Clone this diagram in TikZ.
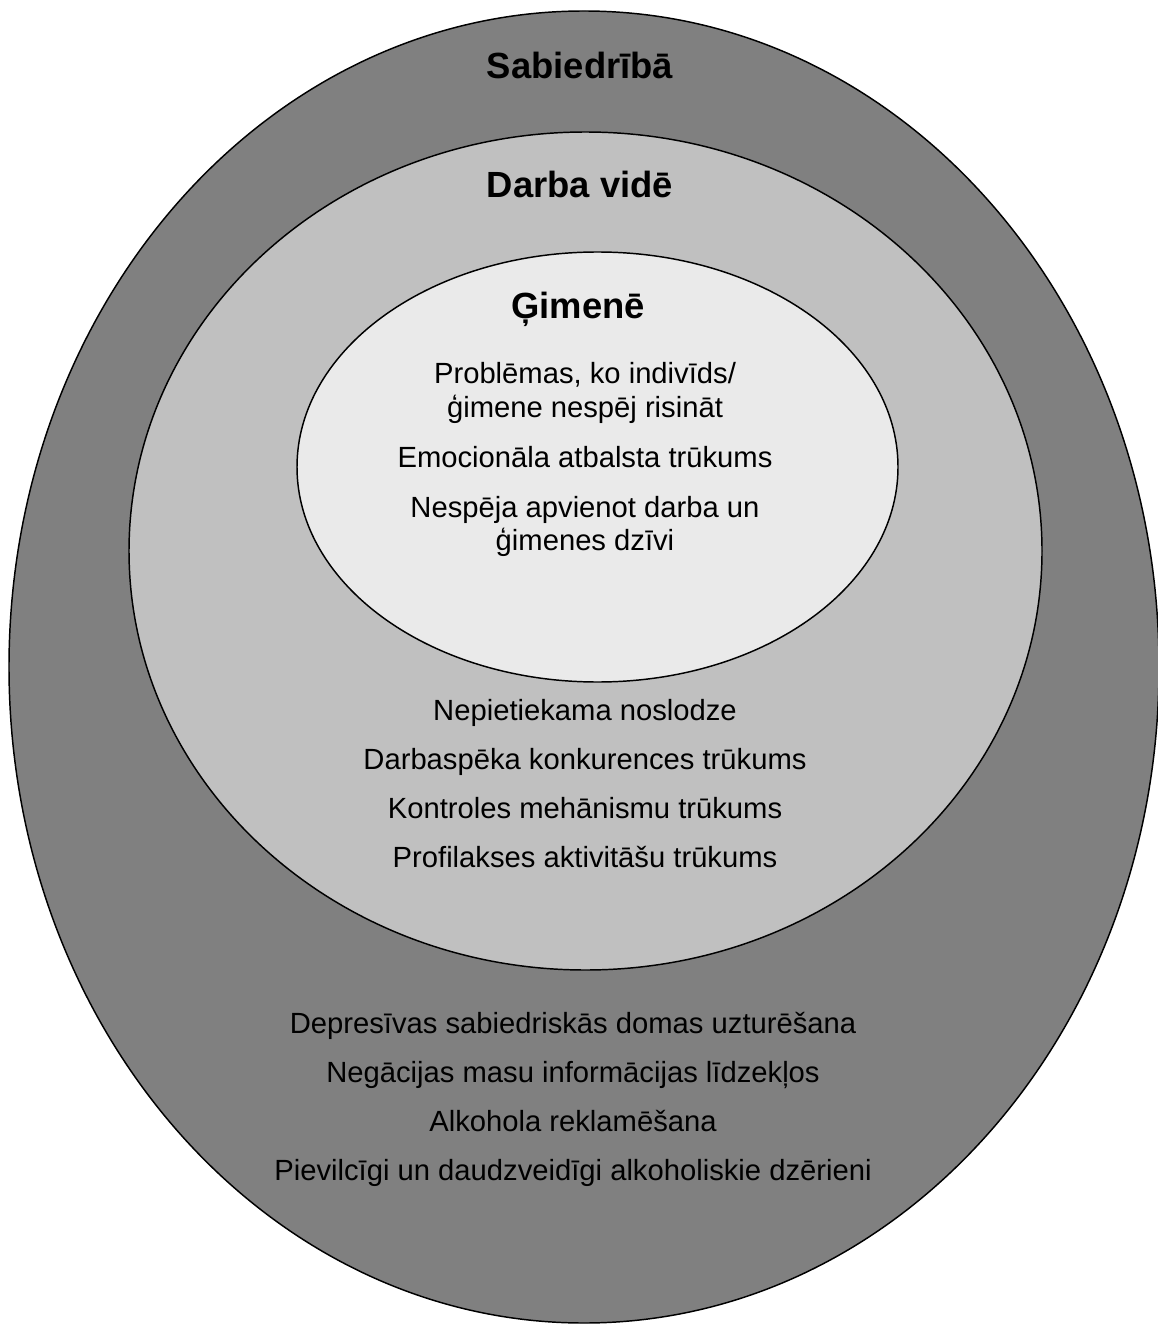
\documentclass[tikz,border=0pt]{standalone}
\usepackage{fontspec}
\setmainfont{Liberation Sans}
\begin{document}
\begin{tikzpicture}[x=0.75pt,y=-0.75pt,
  ring/.style={draw=black,line width=1.1pt},
  ttl/.style={font=\fontsize{27.3}{32}\selectfont\bfseries,anchor=base,inner sep=0pt},
  itm/.style={font=\fontsize{21.9}{26}\selectfont,anchor=base,inner sep=0pt}]
\useasboundingbox (0,0) rectangle (1157,1326);
\fill[white] (0,0) rectangle (1157,1326);
% rings
\draw[ring,fill={rgb,255:red,128;green,128;blue,128}] (584,667) ellipse [x radius=431.25pt, y radius=492pt];
\draw[ring,fill={rgb,255:red,192;green,192;blue,192}] (585.5,551) ellipse [x radius=342.375pt, y radius=314.25pt];
\draw[ring,fill={rgb,255:red,234;green,234;blue,234}] (597.5,467) ellipse [x radius=225.375pt, y radius=161.25pt];
% titles
\node[ttl] (tS) at (580,79) {Sabiedrībā};
\node[ttl] (tD) at (580,198) {Darba vidē};
\node[ttl] (tG) at (578,319) {Ģimenē};
% family
\node[itm] (g1) at (585,383) {Problēmas, ko indivīds/};
\node[itm] (g2) at (585,417) {ģimene nespēj risināt};
\node[itm] (g3) at (585,467) {Emocionāla atbalsta trūkums};
\node[itm] (g4) at (585,517) {Nespēja apvienot darba un};
\node[itm] (g5) at (585,550) {ģimenes dzīvi};
% work
\node[itm] (d1) at (585,720) {Nepietiekama noslodze};
\node[itm] (d2) at (585,769) {Darbaspēka konkurences trūkums};
\node[itm] (d3) at (585,818) {Kontroles mehānismu trūkums};
\node[itm] (d4) at (585,867) {Profilakses aktivitāšu trūkums};
% society
\node[itm] (s1) at (573,1033) {Depresīvas sabiedriskās domas uzturēšana};
\node[itm] (s2) at (573,1082) {Negācijas masu informācijas līdzekļos};
\node[itm] (s3) at (573,1131) {Alkohola reklamēšana};
\node[itm] (s4) at (573,1180) {Pievilcīgi un daudzveidīgi alkoholiskie dzērieni};
\end{tikzpicture}
\end{document}
